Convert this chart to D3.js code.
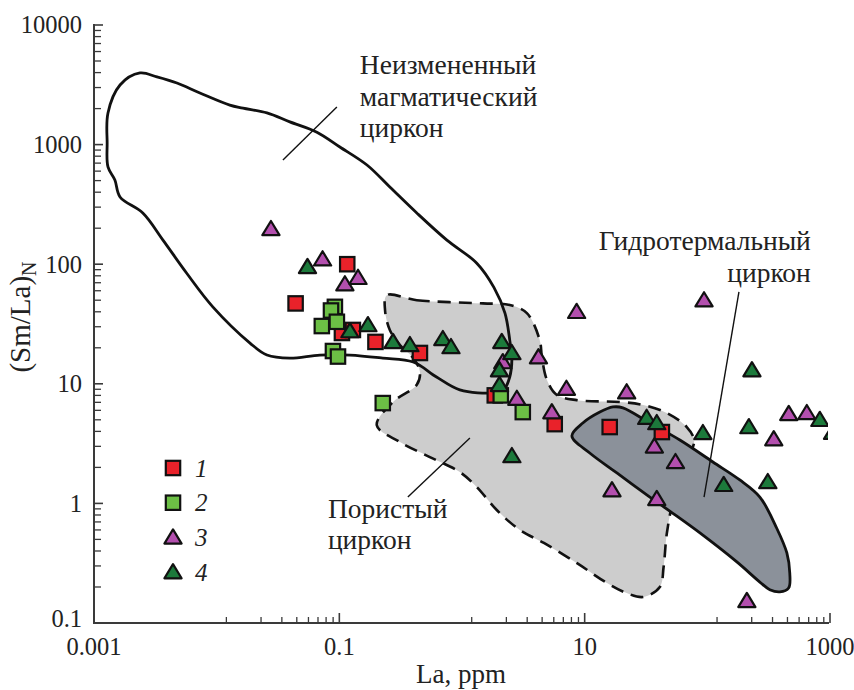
<!DOCTYPE html>
<html>
<head>
<meta charset="utf-8">
<script src="https://cdn.jsdelivr.net/npm/d3@7"></script>
<style>
  body { margin: 0; background: #fff; }
  svg text { font-family: "Liberation Serif", "DejaVu Serif", serif; fill: #222; }
</style>
</head>
<body>
<div id="chart"></div>
<script>
// La, ppm vs (Sm/La)N
const group1 = [[0.116,100],[0.044,47],[0.105,26.6],[0.129,28.2],[0.197,22.4],[0.454,18.1],[1.85,8.0],[5.7,4.6],[16.0,4.35],[42.6,3.95]];
const group2 = [[0.092,44],[0.0855,41],[0.072,30.4],[0.0955,33],[0.0887,18.8],[0.0975,16.9],[0.226,6.9],[2.07,8.0],[3.13,5.8]];
const group3 = [[0.0277,197],[0.073,110],[0.111,68],[0.142,77],[2.15,15.2],[2.8,7.5],[4.2,16.7],[8.6,40],[7.1,9.1],[5.4,5.8],[22,8.5],[37,3.0],[55,2.22],[16.7,1.29],[38.7,1.09],[94,50],[348,3.45],[461,5.6],[647,5.7],[210,0.153]];
const group4 = [[0.055,95],[0.122,27.6],[0.171,31],[0.274,22.4],[0.376,21.1],[0.698,23.7],[0.813,20.3],[2.11,22.4],[2.55,18.1],[2.02,13.0],[2.02,9.8],[2.55,2.49],[32,5.2],[38.7,4.7],[92,3.88],[136,1.43],[231,13.0],[218,4.35],[311,1.51],[826,5.0],[1050,3.9]];

// field outlines
const magmaticField = [[0.0013,1840],[0.00163,3150],[0.00237,3970],[0.00326,3680],[0.00474,3270],[0.0073,2700],[0.0128,2140],[0.0164,2020],[0.0257,1840],[0.0395,1550],[0.0656,1270],[0.101,955],[0.168,675],[0.258,442],[0.428,268],[0.753,159],[1.32,102],[1.82,64],[2.24,39],[2.45,23.2],[2.55,15.8],[2.45,11.4],[2.19,8.9],[1.82,8.4],[0.96,8.9],[0.62,11.4],[0.40,15.2],[0.226,16.4],[0.122,17.4],[0.0695,17.4],[0.0395,16.4],[0.0257,17.4],[0.0187,21.9],[0.0093,44],[0.0057,84],[0.00365,159],[0.0025,268],[0.00163,365],[0.00148,506],[0.0013,650],[0.00128,1030]];
const porousField = [[0.244,55],[0.428,50],[1.48,47],[2.45,45.6],[3.38,39],[4.3,23.2],[4.48,16.7],[4.92,10.8],[5.9,8.1],[8.6,7.3],[19.4,7.05],[30,6.65],[46.8,5.7],[68,4.35],[78,3.39],[72,2.54],[54,1.17],[46.8,0.566],[44,0.294],[41,0.2],[30,0.165],[22,0.178],[15.2,0.216],[8.6,0.318],[4.65,0.467],[2.96,0.6],[1.92,0.88],[1.32,1.37],[0.96,1.83],[0.547,2.44],[0.312,3.26],[0.202,4.5],[0.274,7.05],[0.428,9.8],[0.454,12.6],[0.40,16.4],[0.312,21.1],[0.258,28.2],[0.236,41]];
const hydroField = [[7.87,3.66],[9.66,4.7],[13.3,5.8],[17.0,6.4],[20.5,6.3],[34,4.7],[59.7,3.39],[111,2.22],[184,1.57],[268,1.13],[368,0.62],[445,0.385],[470,0.262],[460,0.196],[390,0.182],[323,0.19],[268,0.22],[174,0.324],[87,0.566],[52,0.83],[34,1.13],[18.3,1.8],[11.0,2.64]];

// labels and leader lines
const labels = [
  { lines: ["Неизмененный", "магматический", "циркон"], at: [0.147, 3890], anchor: "start" },
  { lines: ["Гидротермальный", "циркон"], at: [698, 131], anchor: "end" },
  { lines: ["Пористый", "циркон"], at: [0.0807, 0.755], anchor: "start" }
];
const leaders = [
  [[0.0347, 743], [0.0955, 2060]],
  [[0.362, 1.13], [1.16, 3.52]],
  [[181, 58.6], [94, 1.13]]
];

const legendItems = ["1", "2", "3", "4"];
const xMajor = [0.001, 0.1, 10, 1000];
const xMajorLabels = ["0.001", "0.1", "10", "1000"];
const yMajor = [0.1, 1, 10, 100, 1000, 10000];
const yMajorLabels = ["0.1", "1", "10", "100", "1000", "10000"];

const colors = ["#e9222a", "#6cbf45", "#b34fae", "#1c7a3b"];
const shapes = ["square", "square", "triangle", "triangle"];

const width = 854, height = 690;
const svg = d3.select("#chart").append("svg")
  .attr("width", width).attr("height", height);

const x = d3.scaleLog().domain([0.001, 1000]).range([94, 830]);
const y = d3.scaleLog().domain([0.1, 10000]).range([623, 25]);

svg.append("defs").append("clipPath").attr("id", "plot")
  .append("rect").attr("x", 94).attr("y", 10).attr("width", 734).attr("height", 613);

const plot = svg.append("g").attr("clip-path", "url(#plot)");

const area = d3.line().x(d => x(d[0])).y(d => y(d[1])).curve(d3.curveCatmullRomClosed.alpha(0.5));

plot.append("path").datum(porousField)
  .attr("d", area).attr("fill", "#cdcdcd").attr("stroke", "none");
plot.append("path").datum(porousField)
  .attr("d", area).attr("fill", "none").attr("stroke", "#111")
  .attr("stroke-width", 2.6).attr("stroke-dasharray", "13,8");
plot.append("path").datum(hydroField)
  .attr("d", area).attr("fill", "#8b919a").attr("stroke", "#111")
  .attr("stroke-width", 2.8).attr("stroke-linejoin", "round");
plot.append("path").datum(magmaticField)
  .attr("d", area).attr("fill", "none").attr("stroke", "#111")
  .attr("stroke-width", 2.8);

// leader lines
plot.selectAll(".leader").data(leaders).enter().append("line")
  .attr("x1", d => x(d[0][0])).attr("y1", d => y(d[0][1]))
  .attr("x2", d => x(d[1][0])).attr("y2", d => y(d[1][1]))
  .attr("stroke", "#111").attr("stroke-width", 1.4);

function marker(sel, shape, color) {
  if (shape === "square") {
    sel.append("rect").attr("x", -7.2).attr("y", -7.2).attr("width", 14.4).attr("height", 14.4)
      .attr("fill", color).attr("stroke", "#111").attr("stroke-width", 2.2);
  } else {
    sel.append("path").attr("d", "M0,-8L8.6,6.2L-8.6,6.2Z")
      .attr("fill", color).attr("stroke", "#111").attr("stroke-width", 2.2)
      .attr("stroke-linejoin", "round");
  }
}

[group1, group2, group3, group4].forEach((grp, i) => {
  plot.selectAll(".g" + i).data(grp).enter().append("g")
    .attr("class", "g" + i)
    .attr("transform", d => `translate(${x(d[0])},${y(d[1])})`)
    .each(function() { marker(d3.select(this), shapes[i], colors[i]); });
});

// axes
const axisColor = "#3a3a3a";
svg.append("line").attr("x1", 94).attr("x2", 94).attr("y1", 24).attr("y2", 623)
  .attr("stroke", axisColor).attr("stroke-width", 2);
svg.append("line").attr("x1", 93).attr("x2", 829).attr("y1", 623).attr("y2", 623)
  .attr("stroke", axisColor).attr("stroke-width", 2);

const yMinor = [];
yMajor.slice(0, -1).forEach(b => { for (let k = 2; k <= 9; k++) yMinor.push(b * k); });
svg.selectAll(".ymin").data(yMinor).enter().append("line")
  .attr("x1", 94).attr("x2", 101).attr("y1", d => y(d)).attr("y2", d => y(d))
  .attr("stroke", axisColor).attr("stroke-width", 1.3);
svg.selectAll(".ymaj").data(yMajor).enter().append("line")
  .attr("x1", 94).attr("x2", 103).attr("y1", d => y(d)).attr("y2", d => y(d))
  .attr("stroke", axisColor).attr("stroke-width", 1.6);

const xMinor = [];
xMajor.slice(0, -1).forEach(b => { for (let k = 1; k <= 8; k++) xMinor.push(b * (1 + 11 * k)); });
svg.selectAll(".xmin").data(xMinor).enter().append("line")
  .attr("x1", d => x(d)).attr("x2", d => x(d)).attr("y1", 623).attr("y2", 617)
  .attr("stroke", axisColor).attr("stroke-width", 1.3);
svg.selectAll(".xmaj").data(xMajor).enter().append("line")
  .attr("x1", d => x(d)).attr("x2", d => x(d)).attr("y1", 623).attr("y2", 613)
  .attr("stroke", axisColor).attr("stroke-width", 1.6);

// the bottom label sits a little higher, as in the original
svg.selectAll(".ylab").data(yMajor).enter().append("text")
  .attr("x", 82).attr("y", (d, i) => y(d) + (i === 0 ? -4 : 0)).attr("dy", "0.34em")
  .attr("text-anchor", "end").attr("font-size", 24.5)
  .text((d, i) => yMajorLabels[i]);
svg.selectAll(".xlab").data(xMajor).enter().append("text")
  .attr("x", d => x(d)).attr("y", 655)
  .attr("text-anchor", "middle").attr("font-size", 24.5)
  .text((d, i) => xMajorLabels[i]);

svg.append("text").attr("x", 461).attr("y", 683).attr("text-anchor", "middle")
  .attr("font-size", 27).text("La, ppm");

const yt = svg.append("text").attr("transform", "translate(30,317) rotate(-90)")
  .attr("text-anchor", "middle").attr("font-size", 29);
yt.append("tspan").text("(Sm/La)");
yt.append("tspan").attr("font-size", 20).attr("dy", 6).text("N");

// region labels
labels.forEach(l => {
  const t = svg.append("text").attr("x", x(l.at[0])).attr("y", y(l.at[1]))
    .attr("text-anchor", l.anchor).attr("font-size", 27.5);
  l.lines.forEach((s, j) => {
    t.append("tspan").attr("x", x(l.at[0])).attr("dy", j === 0 ? 0 : 31.5).text(s);
  });
});

// legend
const leg = svg.append("g").attr("transform", "translate(173,468)");
legendItems.forEach((s, i) => {
  const g = leg.append("g").attr("transform", `translate(0,${i * 34.7})`);
  marker(g, shapes[i], colors[i]);
  g.append("text").attr("x", 22).attr("dy", "0.35em").attr("font-size", 25)
    .attr("font-style", "italic").text(s);
});
</script>
</body>
</html>
